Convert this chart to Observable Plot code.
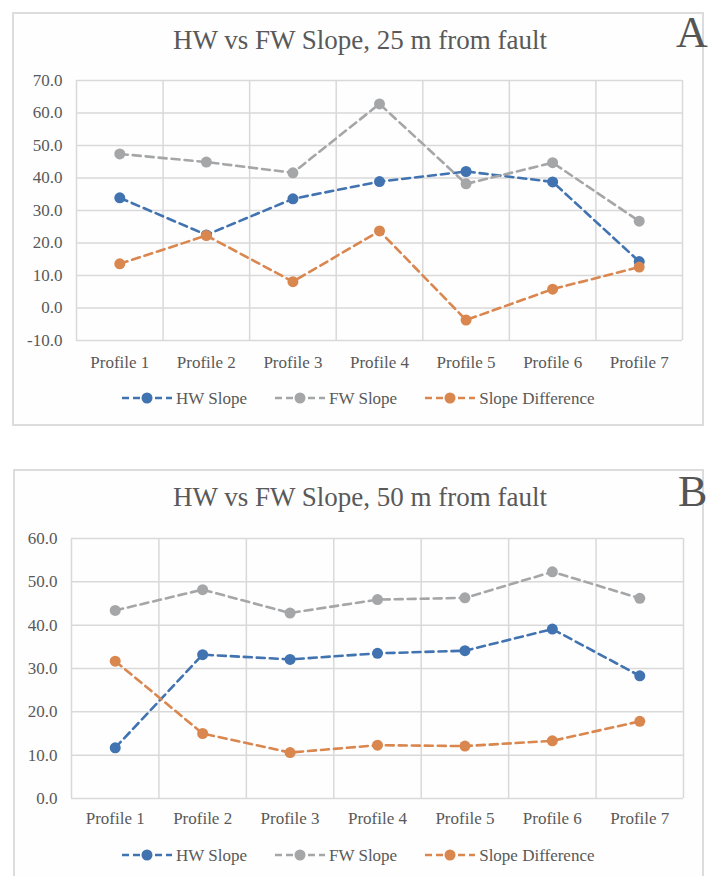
<!DOCTYPE html>
<html>
<head>
<meta charset="utf-8">
<script src="https://cdn.jsdelivr.net/npm/d3@7"></script>
<script src="https://cdn.jsdelivr.net/npm/@observablehq/plot@0.6"></script>
<style>
  html, body { margin: 0; padding: 0; background: #ffffff; }
  body { width: 712px; height: 876px; position: relative; overflow: hidden; font-family: "Liberation Serif", "Times New Roman", serif; }
  .panel { position: absolute; border: 2px solid #dcdcdc; background: #fefefe; box-sizing: border-box; }
  .title { position: absolute; left: 0; width: 720px; text-align: center; font-size: 27px; color: #595959; line-height: 1; }
  .letter { position: absolute; font-size: 44px; color: #555555; line-height: 1; }
  .plotwrap { position: absolute; left: 0; }
  .legend { position: absolute; display: flex; align-items: center; font-size: 17px; color: #595959; line-height: 1; }
  .legend .item { display: flex; align-items: center; margin-right: 27px; }
  .legend svg { margin-right: 3px; }
</style>
</head>
<body>
<script>
// ---- data ----
const profiles = ["Profile 1", "Profile 2", "Profile 3", "Profile 4", "Profile 5", "Profile 6", "Profile 7"];
const seriesNames = ["HW Slope", "FW Slope", "Slope Difference"];
const seriesColors = ["#4173B0", "#A5A6A8", "#D9864F"];

const hw25 = [33.9, 22.5, 33.6, 38.9, 42.0, 38.8, 14.3];
const fw25 = [47.4, 44.9, 41.6, 62.8, 38.2, 44.7, 26.7];
const diff25 = [13.6, 22.3, 8.1, 23.7, -3.7, 5.8, 12.6];

const hw50 = [11.7, 33.2, 32.1, 33.5, 34.1, 39.1, 28.3];
const fw50 = [43.4, 48.2, 42.8, 45.9, 46.3, 52.3, 46.2];
const diff50 = [31.7, 15.0, 10.6, 12.3, 12.1, 13.3, 17.8];

const yTicksA = [-10, 0, 10, 20, 30, 40, 50, 60, 70];
const yTicksB = [0, 10, 20, 30, 40, 50, 60];

const titleA = "HW vs FW Slope, 25 m from fault";
const titleB = "HW vs FW Slope, 50 m from fault";

// ---- helpers ----
function toRows(arrays) {
  const rows = [];
  arrays.forEach((arr, s) => arr.forEach((v, i) => rows.push({series: seriesNames[s], idx: i + 1, value: v})));
  return rows;
}

function makeChart(arrays, yTicks, margins) {
  const rows = toRows(arrays);
  const idxs = profiles.map((p, i) => i + 1);
  const bounds = d3.range(0, profiles.length + 1).map(i => i + 0.5);
  const marks = [
    Plot.ruleY(yTicks, {stroke: "#d9d9d9", strokeWidth: 1.5}),
    Plot.ruleX(bounds, {stroke: "#d9d9d9", strokeWidth: 1.5}),
    Plot.axisY(yTicks, {tickSize: 0, tickPadding: 14, tickFormat: d => d.toFixed(1), fontSize: 17, fill: "#595959", label: null}),
    Plot.axisX(idxs, {tickSize: 0, tickPadding: margins.xPad, tickFormat: i => profiles[i - 1], fontSize: 17, fill: "#595959", label: null})
  ];
  seriesNames.forEach((name, s) => {
    const data = rows.filter(r => r.series === name);
    marks.push(Plot.line(data, {x: "idx", y: "value", stroke: seriesColors[s], strokeWidth: 2.6, strokeDasharray: "8,5"}));
    marks.push(Plot.dot(data, {x: "idx", y: "value", fill: seriesColors[s], r: 5.5, stroke: null}));
  });
  return Plot.plot({
    width: 712,
    height: 400,
    marginTop: margins.top,
    marginBottom: 400 - margins.top - 260,
    marginLeft: margins.left,
    marginRight: margins.right,
    x: {domain: [0.5, profiles.length + 0.5], axis: null},
    y: {domain: [yTicks[0], yTicks[yTicks.length - 1]], axis: null},
    style: {background: "transparent", overflow: "visible", fontFamily: "Liberation Serif, Times New Roman, serif", color: "#595959"},
    marks
  });
}

function makeLegend(left, top) {
  const div = document.createElement("div");
  div.className = "legend";
  div.style.left = left + "px";
  div.style.top = (top - 9) + "px";
  seriesNames.forEach((name, s) => {
    const item = document.createElement("div");
    item.className = "item";
    const sw = d3.create("svg").attr("width", 52).attr("height", 18);
    sw.append("line").attr("x1", 1).attr("x2", 51).attr("y1", 9).attr("y2", 9)
      .attr("stroke", seriesColors[s]).attr("stroke-width", 2.6).attr("stroke-dasharray", "7,4");
    sw.append("circle").attr("cx", 26).attr("cy", 9).attr("r", 5.5).attr("fill", seriesColors[s]);
    item.appendChild(sw.node());
    const t = document.createElement("span");
    t.textContent = name;
    item.appendChild(t);
    div.appendChild(item);
  });
  document.body.appendChild(div);
}

function addDiv(cls, text, styles) {
  const d = document.createElement("div");
  d.className = cls;
  if (text) d.textContent = text;
  Object.assign(d.style, styles);
  document.body.appendChild(d);
  return d;
}

// ---- panel A ----
addDiv("panel", null, {left: "12px", top: "12px", width: "692px", height: "414px"});
addDiv("title", titleA, {top: "27px"});
addDiv("letter", "A", {left: "676px", top: "11px"});
const wrapA = addDiv("plotwrap", null, {top: "0px"});
wrapA.appendChild(makeChart([hw25, fw25, diff25], yTicksA, {top: 80, left: 76, right: 30, xPad: 15}));
makeLegend(121, 398);

// ---- panel B ----
addDiv("panel", null, {left: "13px", top: "469px", width: "691px", height: "430px"});
addDiv("title", titleB, {top: "484px"});
addDiv("letter", "B", {left: "678px", top: "470px"});
const wrapB = addDiv("plotwrap", null, {top: "460px"});
wrapB.appendChild(makeChart([hw50, fw50, diff50], yTicksB, {top: 78, left: 71, right: 29, xPad: 13}));
makeLegend(121, 855);
</script>
</body>
</html>
